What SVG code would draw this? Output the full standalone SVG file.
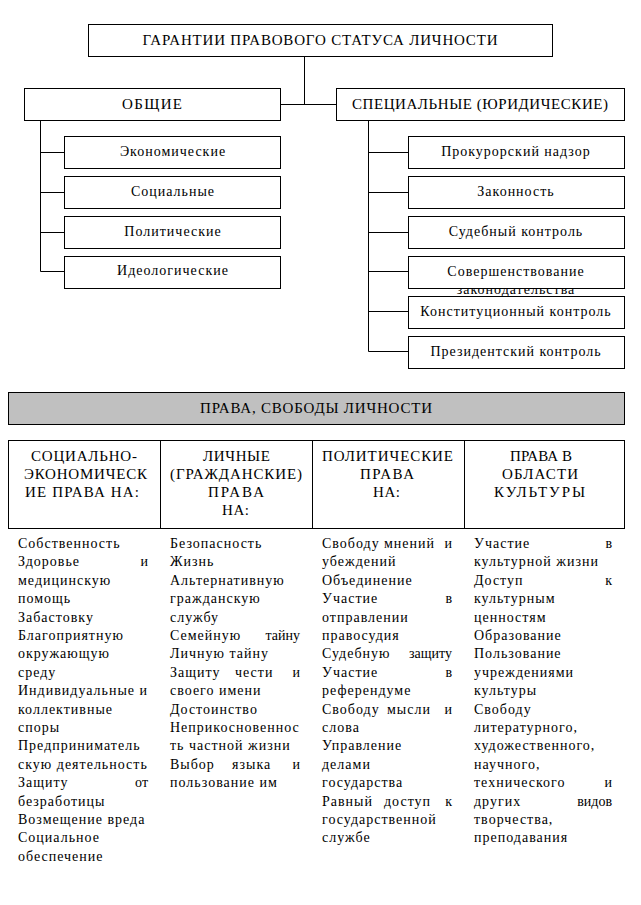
<svg xmlns="http://www.w3.org/2000/svg" width="641" height="905" viewBox="0 0 641 905">
<style>
.box{fill:#fff;stroke:#000;stroke-width:1}
.band{fill:#c0c0c0;stroke:#000;stroke-width:1}
.ln{stroke:#000;stroke-width:1;fill:none}
text{font-family:"Liberation Serif","Times New Roman",serif;font-size:14px;fill:#000}
.c{text-anchor:middle;letter-spacing:1px}
.h{text-anchor:middle;font-size:15px}
.e{text-anchor:end}
.b{letter-spacing:1px}
</style>
<rect width="641" height="905" fill="#fff"/>
<g id="connectors">
<path class="ln" d="M304.5 56V104.5M280.5 104.5H336.5"/>
<path class="ln" d="M40.5 120V271.5M40.5 152.5H64M40.5 192.5H64M40.5 232.5H64M40.5 271.5H64"/>
<path class="ln" d="M368.5 120V351.5M368.5 152.5H408M368.5 192.5H408M368.5 232.5H408M368.5 271.5H408M368.5 311.5H408M368.5 351.5H408"/>
</g>
<g id="root"><rect class="box" x="88.5" y="24.5" width="464" height="32"/><text class="h" x="320" y="45" textLength="355" lengthAdjust="spacing">ГАРАНТИИ ПРАВОВОГО СТАТУСА ЛИЧНОСТИ</text></g>
<g id="general"><rect class="box" x="24.5" y="88.5" width="256" height="32"/><text class="h" x="152" y="109" textLength="60" lengthAdjust="spacing">ОБЩИЕ</text></g>
<g id="special"><rect class="box" x="336.5" y="88.5" width="288" height="32"/><text class="h" x="480" y="109" textLength="256" lengthAdjust="spacing">СПЕЦИАЛЬНЫЕ (ЮРИДИЧЕСКИЕ)</text></g>
<g id="g1"><rect class="box" x="64.5" y="136.5" width="216" height="32"/><text class="c" x="173" y="156">Экономические</text></g>
<g id="g2"><rect class="box" x="64.5" y="176.5" width="216" height="32"/><text class="c" x="173" y="196">Социальные</text></g>
<g id="g3"><rect class="box" x="64.5" y="216.5" width="216" height="32"/><text class="c" x="173" y="236">Политические</text></g>
<g id="g4"><rect class="box" x="64.5" y="256.5" width="216" height="32"/><text class="c" x="173" y="275">Идеологические</text></g>
<g id="s1"><rect class="box" x="408.5" y="136.5" width="216" height="32"/><text class="c" x="516" y="156">Прокурорский надзор</text></g>
<g id="s2"><rect class="box" x="408.5" y="176.5" width="216" height="32"/><text class="c" x="516" y="196">Законность</text></g>
<g id="s3"><rect class="box" x="408.5" y="216.5" width="216" height="32"/><text class="c" x="516" y="236">Судебный контроль</text></g>
<g id="s4"><text class="c" x="516" y="294">законодательства</text><rect x="408.5" y="256.5" width="216" height="32" fill="none" stroke="#000"/><rect x="409" y="257" width="215" height="31" fill="#fff"/><text class="c" x="516" y="276">Совершенствование</text></g>
<g id="s5"><rect class="box" x="408.5" y="296.5" width="216" height="32"/><text class="c" x="516" y="316">Конституционный контроль</text></g>
<g id="s6"><rect class="box" x="408.5" y="336.5" width="216" height="32"/><text class="c" x="516" y="356">Президентский контроль</text></g>
<g id="rights"><rect class="band" x="8.5" y="392.5" width="616" height="32"/><text class="h" x="316" y="413" textLength="232" lengthAdjust="spacing">ПРАВА, СВОБОДЫ ЛИЧНОСТИ</text></g>
<g id="table">
<rect class="box" x="8.5" y="440.5" width="616" height="88"/>
<path class="ln" d="M160.5 440.5V528.5M312.5 440.5V528.5M464.5 440.5V528.5"/>
<text class="h" x="84" y="461" textLength="106" lengthAdjust="spacing">СОЦИАЛЬНО-</text>
<text class="h" x="85.5" y="479" textLength="123" lengthAdjust="spacing">ЭКОНОМИЧЕСК</text>
<text class="h" x="82" y="497" textLength="114" lengthAdjust="spacing">ИЕ ПРАВА НА:</text>
<text class="h" x="236.5" y="461" textLength="67" lengthAdjust="spacing">ЛИЧНЫЕ</text>
<text class="h" x="236" y="479" textLength="132" lengthAdjust="spacing">(ГРАЖДАНСКИЕ)</text>
<text class="h" x="236" y="497" textLength="56" lengthAdjust="spacing">ПРАВА</text>
<text class="h" x="235.5" y="515" textLength="27" lengthAdjust="spacing">НА:</text>
<text class="h" x="387.5" y="461" textLength="131" lengthAdjust="spacing">ПОЛИТИЧЕСКИЕ</text>
<text class="h" x="387" y="479" textLength="54" lengthAdjust="spacing">ПРАВА</text>
<text class="h" x="386.5" y="497" textLength="27" lengthAdjust="spacing">НА:</text>
<text class="h" x="541" y="461" textLength="62" lengthAdjust="spacing">ПРАВА В</text>
<text class="h" x="540" y="479" textLength="76" lengthAdjust="spacing">ОБЛАСТИ</text>
<text class="h" x="539.5" y="497" textLength="91" lengthAdjust="spacing">КУЛЬТУРЫ</text>
</g>
<g id="col1">
<text class="b" x="18" y="548">Собственность</text>
<text class="b" x="18" y="566.4">Здоровье</text><text class="e" x="148" y="566.4">и</text>
<text class="b" x="18" y="584.8">медицинскую</text>
<text class="b" x="18" y="603.2">помощь</text>
<text class="b" x="18" y="621.6">Забастовку</text>
<text class="b" x="18" y="640">Благоприятную</text>
<text class="b" x="18" y="658.4">окружающую</text>
<text class="b" x="18" y="676.8">среду</text>
<text class="b" x="18" y="695.2">Индивидуальные и</text>
<text class="b" x="18" y="713.6">коллективные</text>
<text class="b" x="18" y="732">споры</text>
<text class="b" x="18" y="750.4">Предприниматель</text>
<text class="b" x="18" y="768.8">скую деятельность</text>
<text class="b" x="18" y="787.2">Защиту</text><text class="e" x="148" y="787.2">от</text>
<text class="b" x="18" y="805.6">безработицы</text>
<text class="b" x="18" y="824">Возмещение вреда</text>
<text class="b" x="18" y="842.4">Социальное</text>
<text class="b" x="18" y="860.8">обеспечение</text>
</g>
<g id="col2">
<text class="b" x="170" y="548">Безопасность</text>
<text class="b" x="170" y="566.4">Жизнь</text>
<text class="b" x="170" y="584.8">Альтернативную</text>
<text class="b" x="170" y="603.2">гражданскую</text>
<text class="b" x="170" y="621.6">службу</text>
<text class="b" x="170" y="640">Семейную</text><text class="e" x="300" y="640">тайну</text>
<text class="b" x="170" y="658.4">Личную тайну</text>
<text class="b" x="170" y="676.8">Защиту</text><text class="b" x="235" y="676.8">чести</text><text class="e" x="300" y="676.8">и</text>
<text class="b" x="170" y="695.2">своего имени</text>
<text class="b" x="170" y="713.6">Достоинство</text>
<text class="b" x="170" y="732">Неприкосновеннос</text>
<text class="b" x="170" y="750.4">ть частной жизни</text>
<text class="b" x="170" y="768.8">Выбор</text><text class="b" x="232" y="768.8">языка</text><text class="e" x="300" y="768.8">и</text>
<text class="b" x="170" y="787.2">пользование им</text>
</g>
<g id="col3">
<text class="b" x="322" y="548">Свободу</text><text class="b" x="384" y="548">мнений</text><text class="e" x="452" y="548">и</text>
<text class="b" x="322" y="566.4">убеждений</text>
<text class="b" x="322" y="584.8">Объединение</text>
<text class="b" x="322" y="603.2">Участие</text><text class="e" x="452" y="603.2">в</text>
<text class="b" x="322" y="621.6">отправлении</text>
<text class="b" x="322" y="640">правосудия</text>
<text class="b" x="322" y="658.4">Судебную</text><text class="e" x="452" y="658.4">защиту</text>
<text class="b" x="322" y="676.8">Участие</text><text class="e" x="452" y="676.8">в</text>
<text class="b" x="322" y="695.2">референдуме</text>
<text class="b" x="322" y="713.6">Свободу</text><text class="b" x="387" y="713.6">мысли</text><text class="e" x="452" y="713.6">и</text>
<text class="b" x="322" y="732">слова</text>
<text class="b" x="322" y="750.4">Управление</text>
<text class="b" x="322" y="768.8">делами</text>
<text class="b" x="322" y="787.2">государства</text>
<text class="b" x="322" y="805.6">Равный</text><text class="b" x="384" y="805.6">доступ</text><text class="e" x="452" y="805.6">к</text>
<text class="b" x="322" y="824">государственной</text>
<text class="b" x="322" y="842.4">службе</text>
</g>
<g id="col4">
<text class="b" x="474" y="548">Участие</text><text class="e" x="612" y="548">в</text>
<text class="b" x="474" y="566.4">культурной жизни</text>
<text class="b" x="474" y="584.8">Доступ</text><text class="e" x="612" y="584.8">к</text>
<text class="b" x="474" y="603.2">культурным</text>
<text class="b" x="474" y="621.6">ценностям</text>
<text class="b" x="474" y="640">Образование</text>
<text class="b" x="474" y="658.4">Пользование</text>
<text class="b" x="474" y="676.8">учреждениями</text>
<text class="b" x="474" y="695.2">культуры</text>
<text class="b" x="474" y="713.6">Свободу</text>
<text class="b" x="474" y="732">литературного,</text>
<text class="b" x="474" y="750.4">художественного,</text>
<text class="b" x="474" y="768.8">научного,</text>
<text class="b" x="474" y="787.2">технического</text><text class="e" x="612" y="787.2">и</text>
<text class="b" x="474" y="805.6">других</text><text class="e" x="612" y="805.6">видов</text>
<text class="b" x="474" y="824">творчества,</text>
<text class="b" x="474" y="842.4">преподавания</text>
</g>
</svg>
